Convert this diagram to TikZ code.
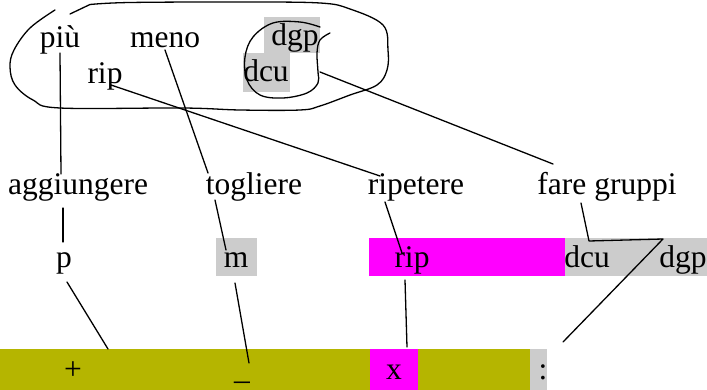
\documentclass[tikz,border=0pt]{standalone}
\usepackage{fontspec}
\setmainfont{Liberation Serif}
\usepackage{tikz}
\definecolor{hlgray}{RGB}{204, 204, 204}
\definecolor{hlmagenta}{RGB}{255, 0, 255}
\definecolor{hlolive}{RGB}{181, 181, 0}
\newcommand{\wordfont}{\fontsize{31.5}{36}\selectfont}
\tikzset{
  word/.style   = {font=\wordfont, inner sep=0pt, anchor=base},
  link/.style   = {line width=1.3pt, black, line cap=round, line join=round},
  blob/.style   = {line width=1.3pt, black, line cap=round},
}
\begin{document}
\begin{tikzpicture}[x=1pt, y=-1pt]
  \useasboundingbox (0,0) rectangle (707,390);

  % highlights
  \fill[hlgray] (264,17) rectangle (320,53);
  \fill[hlgray] (243,53) rectangle (290,92);
  \fill[hlgray] (216,238) rectangle (257,276);
  \fill[hlmagenta] (369,238) rectangle (565,276);
  \fill[hlgray] (565,238) rectangle (707,276);
  \fill[hlolive] (0,349) rectangle (530,390);
  \fill[hlmagenta] (370,349) rectangle (418,390);
  \fill[hlgray] (530,349) rectangle (547,390);

  % loops round the abbreviations
  \draw[blob] (70,14) -- (90,4.5);
  \draw[blob] plot[smooth, tension=0.6] coordinates {(90,4.5) (130,2.5) (240,2) (320,3) (350,9) (383,25) (388,50) (387,70) (377,85) (350,95) (320,106) (300,110) (240,110) (183,108) (60,108) (33,100) (15,85) (10,67) (14,50) (30,28) (55,10)};
  \draw[blob] plot[smooth, tension=0.6] coordinates {(320,27) (300,22) (273,23) (253,37) (245,57) (247,80) (260,95) (283,98) (307,93) (318,83) (318,72) (317,53) (320,40) (330,33)};

  % words
  \node[word] (piu)   at (60,48)  {più};
  \node[word] (meno)  at (165,48) {meno};
  \node[word] (rip1)  at (105,84) {rip};
  \node[word] (dgp1)  at (295,46) {dgp};
  \node[word] (dcu1)  at (266,82) {dcu};

  \node[word] (agg)   at (78,195)  {aggiungere};
  \node[word] (togl)  at (254,195) {togliere};
  \node[word] (ripet) at (416,195) {ripetere};
  \node[word] (fare)  at (607,195) {fare gruppi};

  \node[word] (p)     at (64,267)  {p};
  \node[word] (m)     at (236,267) {m};
  \node[word] (rip2)  at (412,267) {rip};
  \node[word] (dcu2)  at (587,267) {dcu};
  \node[word] (dgp2)  at (683,267) {dgp};

  \node[word] (plus)  at (73,379)  {+};
  \node[word] (minus) at (242,379) {\_};
  \node[word] (times) at (394,379) {x};
  \node[word] (divi)  at (543,379) {:};

  % connector ends
  \coordinate (piu-e)   at (60,53);   \coordinate (agg-n)   at (61,174);
  \coordinate (meno-e)  at (165,50);  \coordinate (togl-n)  at (208,173);
  \coordinate (rip1-e)  at (111,85);  \coordinate (ripet-n) at (380,176);
  \coordinate (dcu1-e)  at (320,72);  \coordinate (fare-n)  at (553,164);
  \coordinate (agg-s)   at (63,208);  \coordinate (p-n)     at (63,242);
  \coordinate (togl-s)  at (215,200); \coordinate (m-n)     at (226,250);
  \coordinate (ripet-s) at (385,202); \coordinate (rip2-n)  at (402,253);
  \coordinate (fare-s)  at (581,203); \coordinate (fare-k1) at (589,241);
  \coordinate (fare-k2) at (663,239); \coordinate (divi-n)  at (563,342);
  \coordinate (p-s)     at (67,282);  \coordinate (plus-n)  at (108,349);
  \coordinate (m-s)     at (235,283); \coordinate (minus-n) at (249,363);
  \coordinate (rip2-s)  at (405,280); \coordinate (times-n) at (407,347);

  \draw[link] (piu-e) -- (agg-n);
  \draw[link] (meno-e) -- (togl-n);
  \draw[link] (rip1-e) -- (ripet-n);
  \draw[link] (dcu1-e) -- (fare-n);
  \draw[link] (agg-s) -- (p-n);
  \draw[link] (togl-s) -- (m-n);
  \draw[link] (ripet-s) -- (rip2-n);
  \draw[link] (fare-s) -- (fare-k1) -- (fare-k2) -- (divi-n);
  \draw[link] (p-s) -- (plus-n);
  \draw[link] (m-s) -- (minus-n);
  \draw[link] (rip2-s) -- (times-n);
\end{tikzpicture}
\end{document}
